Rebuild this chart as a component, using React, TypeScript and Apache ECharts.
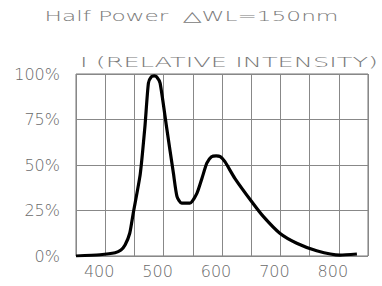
import React, { useEffect, useRef } from "react";
import * as echarts from "echarts";

const wavelengths = [350, 391, 417, 427, 434, 442, 448, 460, 468, 474, 479, 484, 488, 494, 505, 517, 523, 531, 545, 557, 566, 574, 582, 590, 597, 605, 622, 651, 671, 699, 728, 762, 802, 831];
const intensity = [0, 0.7, 1.8, 3.3, 6, 12.5, 23.5, 45, 71, 95, 98.5, 99, 98.5, 95, 71, 45, 32.6, 29, 29, 34.4, 43, 51, 54.5, 55, 54.6, 51.8, 42.7, 29.8, 21.6, 12.5, 7, 2.9, 0.5, 1.1];
const xTicks = [400, 500, 600, 700, 800];
const yTicks = [0, 25, 50, 75, 100];
const titleText = "Half Power  \u25B3WL=150nm";
const subtitleText = "I (RELATIVE INTENSITY)";

export default function App() {
  const ref = useRef<HTMLDivElement>(null);
  useEffect(() => {
    if (!ref.current) return;
    const chart = echarts.init(ref.current, null, { renderer: "svg" });
    const font = "DejaVu Sans";
    const textColor = "#6a6a6a";
    chart.setOption({
      animation: false,
      backgroundColor: "#fff",
      graphic: [
        {
          type: "text",
          x: 191.5,
          y: 16,
          scaleX: 1.72,
          style: {
            text: titleText,
            fill: "#7a7a7a",
            font: `200 13.5px '${font}'`,
            align: "center",
            verticalAlign: "middle",
          },
        },
        {
          type: "text",
          x: 229,
          y: 62,
          scaleX: 1.9,
          style: {
            text: subtitleText,
            fill: "#7a7a7a",
            font: `200 13.5px '${font}'`,
            align: "center",
            verticalAlign: "middle",
          },
        },
      ],
      grid: { left: 76, top: 74, right: 14, bottom: 30, show: true, borderColor: "#777", borderWidth: 1 },
      xAxis: {
        type: "value",
        min: 350,
        max: 850,
        interval: 50,
        axisLine: { show: false },
        axisTick: { show: false },
        splitLine: { show: true, lineStyle: { color: "#888", width: 1 } },
        axisLabel: {
          margin: 7,
          color: textColor,
          fontFamily: font,
          fontSize: 16,
          fontWeight: 200,
          padding: [0, 12, 0, 0],
          formatter: (v: number) => (xTicks.includes(v) ? String(v) : ""),
        },
      },
      yAxis: {
        type: "value",
        min: 0,
        max: 100,
        interval: 25,
        axisLine: { show: false },
        axisTick: { show: false },
        splitLine: { show: true, lineStyle: { color: "#888", width: 1 } },
        axisLabel: {
          margin: 16,
          color: textColor,
          fontFamily: font,
          fontSize: 16,
          fontWeight: 200,
          padding: [0, 0, 5, 0],
          formatter: (v: number) => (yTicks.includes(v) ? v + "%" : ""),
        },
      },
      series: [
        {
          type: "line",
          data: wavelengths.map((w, i) => [w, intensity[i]]),
          smooth: 0.2,
          showSymbol: false,
          lineStyle: { color: "#000", width: 3.2 },
        },
      ],
    });
    return () => chart.dispose();
  }, []);
  return <div ref={ref} style={{ width: 382, height: 286, position: "absolute", left: 0, top: 0 }} />;
}
